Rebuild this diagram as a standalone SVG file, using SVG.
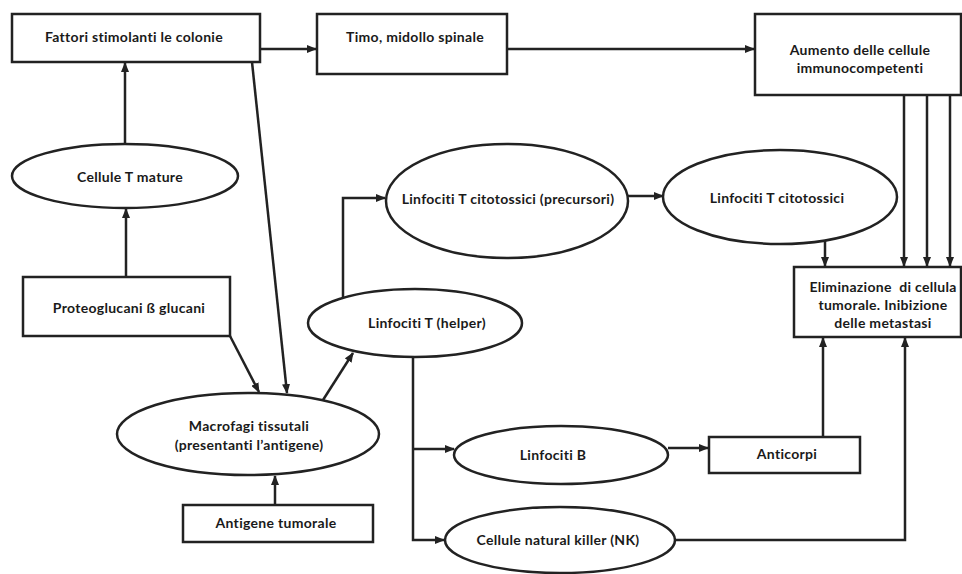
<svg xmlns="http://www.w3.org/2000/svg" width="962" height="574" viewBox="0 0 962 574">
<defs>
<marker id="ah" markerUnits="userSpaceOnUse" markerWidth="10" markerHeight="8" refX="9" refY="4" orient="auto">
<path d="M0,0 L10,4 L0,8 Z" fill="#222"/>
</marker>
</defs>
<style>
.box{fill:#fff;stroke:#222;stroke-width:2.5}
.el{fill:#fff;stroke:#222;stroke-width:2.5}
.c{fill:none;stroke:#222;stroke-width:2.5}
.a{marker-end:url(#ah)}
text{font-family:Lato,"Open Sans","Liberation Sans",sans-serif;font-weight:700;font-size:14px;letter-spacing:0.3px;fill:#1a1a1a;text-anchor:middle}
</style>
<rect width="962" height="574" fill="#fff"/>
<g id="connectors">
<path class="c a" d="M260,49 H316"/>
<path class="c a" d="M507,49 H754"/>
<path class="c a" d="M904,95 V266"/>
<path class="c a" d="M927,95 V266"/>
<path class="c a" d="M950,95 V266"/>
<path class="c a" d="M125,144 V63"/>
<path class="c a" d="M126,277 V209"/>
<path class="c a" d="M252,62 L287,393"/>
<path class="c a" d="M230,336 L259,392"/>
<path class="c a" d="M323,400 L353,353"/>
<path class="c a" d="M275,505 V476"/>
<path class="c a" d="M343,297 V198 H385"/>
<path class="c a" d="M628,196 H663"/>
<path class="c a" d="M825,241 V266"/>
<path class="c a" d="M413,357 V540 H444"/>
<path class="c a" d="M413,449 H454"/>
<path class="c a" d="M668,448 H708"/>
<path class="c a" d="M823,437 V338"/>
<path class="c a" d="M675,540 H905 V338"/>
</g>
<g id="fattori"><rect class="box" x="12" y="14" width="248" height="48"/><text x="134" y="42">Fattori stimolanti le colonie</text></g>
<g id="timo"><rect class="box" x="317" y="14" width="190" height="60"/><text x="415" y="42">Timo, midollo spinale</text></g>
<g id="aumento"><rect class="box" x="755" y="14" width="206" height="81"/><text x="860" y="55">Aumento delle cellule</text><text x="860" y="73">immunocompetenti</text></g>
<g id="cellule-t-mature"><ellipse class="el" cx="125" cy="176" rx="113" ry="32"/><text x="130" y="182">Cellule T mature</text></g>
<g id="proteoglucani"><rect class="box" x="23" y="277" width="207" height="59"/><text x="129" y="313">Proteoglucani ß glucani</text></g>
<g id="macrofagi"><ellipse class="el" cx="248" cy="434" rx="131" ry="41"/><text x="249" y="431">Macrofagi tissutali</text><text x="249" y="450">(presentanti l’antigene)</text></g>
<g id="antigene"><rect class="box" x="183" y="505" width="190" height="37"/><text x="276" y="528">Antigene tumorale</text></g>
<g id="helper"><ellipse class="el" cx="415" cy="323" rx="107" ry="34"/><text x="427" y="328">Linfociti T (helper)</text></g>
<g id="precursori"><ellipse class="el" cx="507" cy="201" rx="121" ry="57"/><text x="508" y="204">Linfociti T citotossici (precursori)</text></g>
<g id="citotossici"><ellipse class="el" cx="780" cy="197" rx="117" ry="47"/><text x="777" y="203">Linfociti T citotossici</text></g>
<g id="eliminazione"><rect class="box" x="794" y="267" width="167" height="70"/><text x="883" y="292" xml:space="preserve">Eliminazione  di cellula</text><text x="883" y="310">tumorale. Inibizione</text><text x="883" y="328">delle metastasi</text></g>
<g id="linfociti-b"><ellipse class="el" cx="561" cy="455" rx="107" ry="29"/><text x="553" y="460">Linfociti B</text></g>
<g id="anticorpi"><rect class="box" x="709" y="437" width="151" height="36"/><text x="787" y="459">Anticorpi</text></g>
<g id="nk"><ellipse class="el" cx="560" cy="540" rx="115" ry="33"/><text x="558" y="545">Cellule natural killer (NK)</text></g>
</svg>
